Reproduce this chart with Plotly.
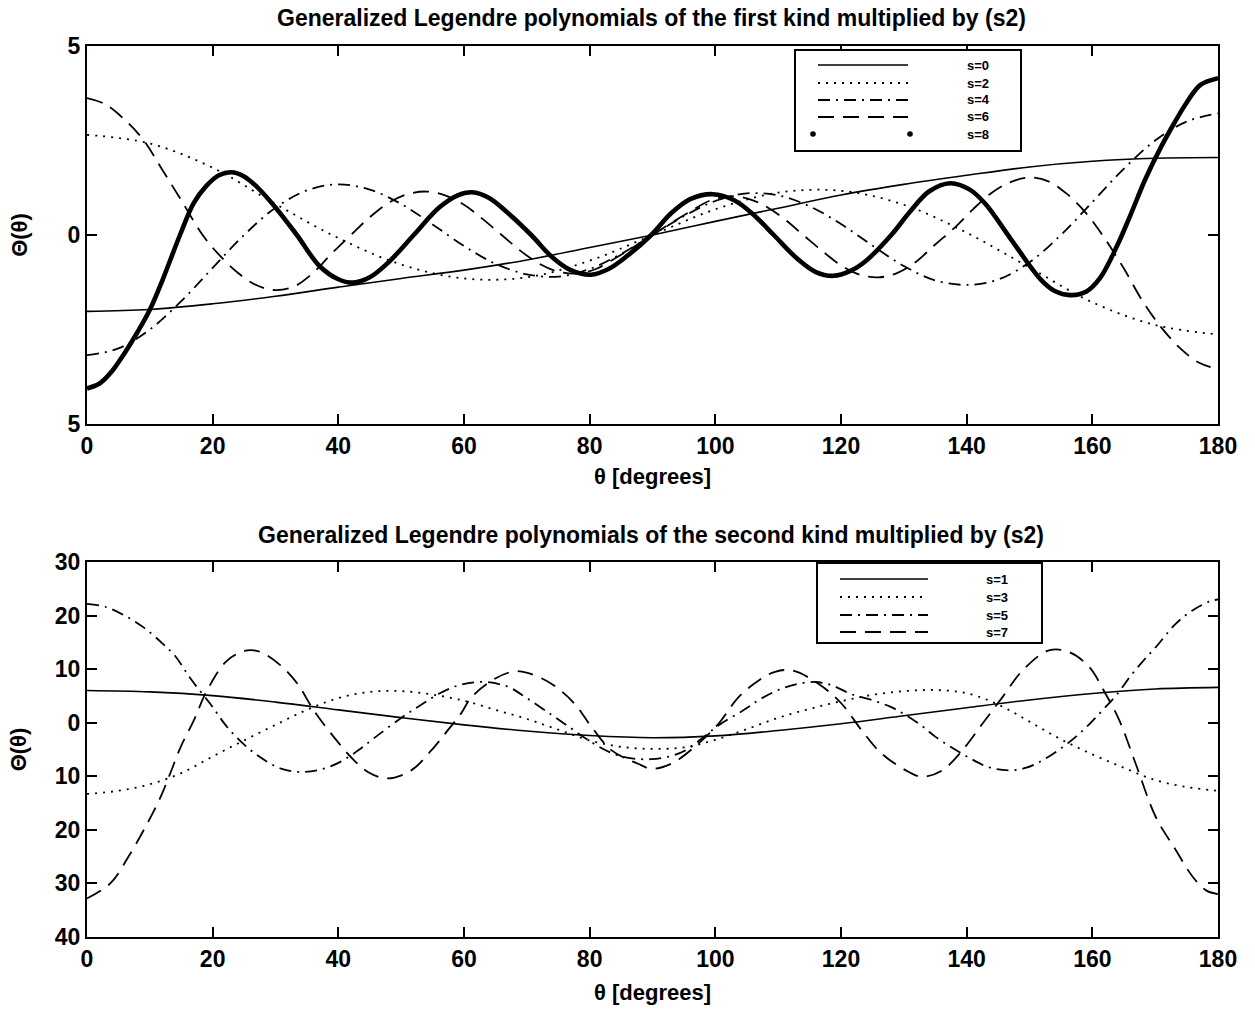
import plotly.graph_objects as go

# ---------------- data ----------------
# Top panel: first kind, s = 0, 2, 4, 6, 8
theta_s0 = [0, 10, 20, 30, 40, 50, 60, 70, 80, 90, 100, 110, 120, 130, 140, 150, 160, 170, 180]
s0 = [-2.02, -1.97, -1.82, -1.62, -1.38, -1.15, -0.93, -0.66, -0.33, 0.0, 0.36, 0.71, 1.06,
      1.34, 1.58, 1.80, 1.95, 2.03, 2.05]

theta_s2 = [0, 10, 20, 30, 40, 50, 60, 70, 80, 90, 100, 110, 120, 130, 140, 150, 160, 170, 180]
s2 = [2.65, 2.42, 1.78, 0.82, -0.08, -0.78, -1.15, -1.12, -0.68, 0.0, 0.68, 1.12, 1.17,
      0.80, 0.06, -0.86, -1.78, -2.38, -2.63]

theta_s4 = [0, 5, 10, 15, 20, 25, 30, 35, 40, 45, 50, 55, 60, 65, 70, 75, 80, 85, 90,
            95, 100, 105, 110, 115, 120, 125, 130, 135, 140, 145, 150, 155, 160, 165, 170, 175, 180]
s4 = [-3.18, -3.0, -2.5, -1.75, -0.87, 0.0, 0.72, 1.18, 1.34, 1.2, 0.82, 0.28, -0.29, -0.76,
      -1.04, -1.1, -0.9, -0.5, 0.0, 0.5, 0.9, 1.1, 1.05, 0.76, 0.29, -0.28, -0.82, -1.2,
      -1.32, -1.18, -0.72, 0.0, 0.87, 1.75, 2.5, 3.0, 3.22]

theta_s6 = [0, 3, 6, 9, 12, 15, 18.4, 21, 24, 27, 30, 33, 36, 39, 42, 45, 48, 51, 54, 57, 60,
            63, 66, 69, 72, 75, 78, 81, 84, 87, 90, 93, 96, 99, 102, 105, 108, 111, 114, 117,
            120, 123, 126, 129, 132, 135, 138, 141, 144, 147, 150, 153, 156, 159, 161.6, 165,
            168, 171, 174, 177, 180]
s6 = [3.62, 3.45, 3.05, 2.51, 1.72, 0.92, 0.0, -0.52, -1.0, -1.33, -1.46, -1.36, -1.0, -0.48,
      0.0, 0.47, 0.85, 1.08, 1.15, 1.05, 0.8, 0.42, 0.0, -0.42, -0.76, -0.97, -1.02, -0.9,
      -0.62, -0.32, 0.0, 0.32, 0.62, 0.9, 1.02, 0.97, 0.76, 0.42, 0.0, -0.42, -0.8, -1.05,
      -1.12, -1.0, -0.7, -0.25, 0.18, 0.68, 1.12, 1.4, 1.52, 1.42, 1.08, 0.58, 0.0, -0.88,
      -1.75, -2.45, -3.0, -3.38, -3.55]

theta_s8 = [0, 2, 4, 6, 8, 10, 12, 14.8, 17, 19, 21, 23, 25, 27, 30, 33.4, 37, 40, 42.4, 45,
            48, 52, 56, 59, 61.3, 64, 67, 70.7, 74, 77, 80.2, 83, 86, 89.8, 93, 96, 99.6, 103,
            106, 109.3, 113, 116, 118.8, 121.5, 124, 128, 131, 134, 137.4, 140.5, 143, 147,
            151.8, 154, 156.5, 159, 161.3, 163.9, 166, 168.5, 171, 173, 175, 177.2, 180]
s8 = [-4.06, -3.93, -3.6, -3.12, -2.58, -1.98, -1.2, 0.0, 0.85, 1.3, 1.58, 1.66, 1.55, 1.28,
      0.73, 0.0, -0.82, -1.17, -1.26, -1.12, -0.72, 0.0, 0.72, 1.05, 1.13, 0.98, 0.58, 0.0,
      -0.58, -0.93, -1.05, -0.9, -0.55, 0.0, 0.58, 0.95, 1.08, 0.92, 0.55, 0.0, -0.62, -0.98,
      -1.08, -0.95, -0.68, 0.0, 0.62, 1.15, 1.37, 1.2, 0.82, -0.1, -1.18, -1.48, -1.59, -1.5,
      -1.12, -0.3, 0.5, 1.5, 2.35, 2.95, 3.5, 3.97, 4.15]

# Bottom panel: second kind, s = 1, 3, 5, 7
theta_s1 = [0, 10, 20, 30, 40, 50, 60, 70, 80, 90, 100, 110, 120, 130, 140, 150, 160, 170, 180]
s1 = [6.0, 5.75, 5.05, 3.85, 2.4, 0.95, -0.4, -1.55, -2.4, -2.8, -2.45, -1.45, -0.2, 1.3,
      2.8, 4.25, 5.45, 6.3, 6.6]

theta_s3 = [0, 5, 10, 15, 20, 25, 30, 35, 40, 45, 50, 55, 60, 65, 70, 75, 80, 85, 90, 95,
            100, 105, 110, 115, 120, 125, 130, 135, 140, 145, 150, 155, 160, 165, 170, 175, 180]
s3 = [-13.3, -12.7, -11.5, -9.4, -6.3, -3.3, -0.4, 2.4, 4.6, 5.75, 5.9, 5.25, 4.1, 2.4, 0.7,
      -1.3, -3.3, -4.5, -4.9, -4.6, -3.2, -1.2, 0.9, 2.6, 4.0, 5.2, 5.9, 6.1, 5.5, 3.4, 0.2,
      -3.1, -5.9, -8.4, -10.7, -12.0, -12.7]

theta_s5 = [0, 3, 6, 9, 12, 14, 16.5, 19.7, 22.3, 25.5, 28.7, 31, 34, 37, 40, 43, 46, 50, 53,
            56, 59.5, 63.3, 67, 70, 73.9, 77, 79.2, 82, 84.5, 87, 89.8, 93, 95.5, 98, 100.5,
            104.7, 107, 110, 113, 115.9, 118.5, 121.7, 125, 128, 130.2, 133, 135, 139.3, 143.5,
            146.7, 149.5, 152.1, 155, 157.4, 159.5, 161.6, 164, 166, 168, 170.1, 173.3, 176,
            178.6, 180]
s5 = [22.2, 21.6, 20.0, 17.8, 14.8, 12.5, 8.2, 3.4, -0.8, -4.6, -7.3, -8.6, -9.2, -8.8, -7.5,
      -5.3, -2.6, 0.9, 3.2, 5.4, 7.1, 7.6, 6.7, 4.6, 1.5, -1.0, -2.8, -4.8, -6.1, -6.7, -6.8,
      -6.2, -5.0, -2.8, -0.5, 2.5, 4.3, 6.1, 7.2, 7.6, 7.0, 5.3, 4.2, 2.9, 1.5, -0.7, -2.6,
      -5.8, -8.3, -8.9, -8.4, -7.0, -4.8, -2.6, -0.3, 2.3, 5.4, 8.6, 11.4, 14.1, 18.5, 21.0,
      22.6, 23.0]

theta_s7 = [0, 3.7, 6.9, 9.6, 11.7, 13.3, 14.9, 17.0, 19.1, 22.3, 25.5, 27.6, 30.8, 33.5, 36.1,
            39.3, 42.0, 44.7, 47.8, 51.6, 54.8, 57.4, 59.5, 61.2, 64.9, 68, 70.1, 73.9, 77.6,
            80.3, 83.5, 87.7, 89.8, 93.0, 97.3, 100.5, 103.7, 106.9, 109.5, 112.2, 116.4, 120.1,
            123.3, 126.5, 130.8, 132.9, 136.1, 139.3, 142.5, 145.7, 148.9, 153.1, 156.3, 159.5,
            162.1, 164.3, 166.9, 170.1, 173.3, 176.0, 178.1, 180]
s7 = [-32.8, -30.0, -24.4, -18.8, -13.9, -9.3, -4.55, 0.43, 6.03, 11.6, 13.5, 13.2, 10.7, 7.28,
      2.3, -2.7, -6.4, -9.2, -10.4, -8.9, -5.17, -1.44, 1.68, 4.78, 8.2, 9.6, 9.3, 7.28, 3.54,
      -0.8, -5.17, -7.65, -8.6, -7.65, -3.9, -0.2, 4.78, 7.9, 9.5, 9.76, 7.28, 3.54, -1.44,
      -5.8, -9.2, -10.1, -8.9, -5.17, -0.2, 4.78, 9.76, 13.5, 13.2, 10.4, 5.4, 0.43, -7.65,
      -17.6, -23.8, -28.8, -31.3, -32.0]

x_ticks = [0, 20, 40, 60, 80, 100, 120, 140, 160, 180]
top_yticks = [-5, 0, 5]
top_yticklabels = ["5", "0", "5"]
bot_yticks = [-40, -30, -20, -10, 0, 10, 20, 30]
bot_yticklabels = ["40", "30", "20", "10", "0", "10", "20", "30"]

top_labels = ["s=0", "s=2", "s=4", "s=6", "s=8"]
bot_labels = ["s=1", "s=3", "s=5", "s=7"]
title_top = "Generalized Legendre polynomials of the first kind multiplied by (s2)"
title_bot = "Generalized Legendre polynomials of the second kind multiplied by (s2)"
x_title = "θ [degrees]"
y_title = "Θ(θ)"

# ---------------- styling / layout helpers ----------------
W, H = 1255, 1011
ML, MR, MT, MB = 87, 37, 46, 74


def fx(px):
    return (px - ML) / (W - ML - MR)


def fy(py):
    return (H - MB - py) / (H - MT - MB)


FONT = "Liberation Sans, Arial, Helvetica, sans-serif"
SOLID = "solid"
DOT = "2px,6px"
DASHDOT = "12px,6px,2px,6px"
DASH = "16px,9px"

fig = go.Figure()

top_series = [
    (theta_s0, s0, SOLID, 1.6),
    (theta_s2, s2, DOT, 1.8),
    (theta_s4, s4, DASHDOT, 1.8),
    (theta_s6, s6, DASH, 1.8),
    (theta_s8, s8, SOLID, 4.6),
]
for (xs, ys, dash, w), name in zip(top_series, top_labels):
    fig.add_trace(go.Scatter(x=xs, y=ys, mode="lines", name=name, showlegend=False,
                             line=dict(color="black", width=w, dash=dash,
                                       shape="spline", smoothing=1.0),
                             xaxis="x", yaxis="y"))

bot_series = [
    (theta_s1, s1, SOLID, 1.6),
    (theta_s3, s3, DOT, 1.8),
    (theta_s5, s5, DASHDOT, 1.8),
    (theta_s7, s7, DASH, 1.8),
]
for (xs, ys, dash, w), name in zip(bot_series, bot_labels):
    fig.add_trace(go.Scatter(x=xs, y=ys, mode="lines", name=name, showlegend=False,
                             line=dict(color="black", width=w, dash=dash,
                                       shape="spline", smoothing=1.0),
                             xaxis="x2", yaxis="y2"))

tickfont = dict(family=FONT, size=23, color="black", weight="bold")
axis_common = dict(showline=True, linewidth=2, linecolor="black", mirror="ticks",
                   ticks="inside", ticklen=10, tickwidth=2, tickcolor="black",
                   showgrid=False, zeroline=False, tickfont=tickfont, automargin=False)
axtitlefont = dict(family=FONT, size=22, color="black", weight="bold")

fig.update_layout(
    width=W, height=H,
    margin=dict(l=ML, r=MR, t=MT, b=MB, autoexpand=False),
    paper_bgcolor="white", plot_bgcolor="white",
    showlegend=False,
    xaxis=dict(domain=[0, 1], range=[0, 180], anchor="y", tickvals=x_ticks,
               title=dict(text=x_title, font=axtitlefont, standoff=11),
               **axis_common),
    yaxis=dict(domain=[fy(424), 1.0], range=[-5, 5], anchor="x", tickvals=top_yticks,
               ticktext=top_yticklabels,
               title=dict(text=y_title, font=axtitlefont, standoff=34),
               **axis_common),
    xaxis2=dict(domain=[0, 1], range=[0, 180], anchor="y2", tickvals=x_ticks,
                title=dict(text=x_title, font=axtitlefont, standoff=14),
                **axis_common),
    yaxis2=dict(domain=[0, fy(562)], range=[-40, 30], anchor="x2", tickvals=bot_yticks,
                ticktext=bot_yticklabels,
                title=dict(text=y_title, font=axtitlefont, standoff=22),
                **axis_common),
)

titlefont = dict(family=FONT, size=23, color="black", weight="bold")
fig.add_annotation(text=title_top, x=fx(651), y=fy(18), xref="paper", yref="paper",
                   showarrow=False, font=titlefont, xanchor="center", yanchor="middle")
fig.add_annotation(text=title_bot, x=fx(651), y=fy(535), xref="paper", yref="paper",
                   showarrow=False, font=titlefont, xanchor="center", yanchor="middle")

# ---------------- hand-drawn legend boxes (MATLAB style) ----------------
legfont = dict(family=FONT, size=13, color="black", weight="bold")


def legend_box(x0, x1, y0, y1):
    fig.add_shape(type="rect", xref="paper", yref="paper", x0=fx(x0), x1=fx(x1),
                  y0=fy(y1), y1=fy(y0), line=dict(color="black", width=2),
                  fillcolor="white", layer="above")


def legend_line(x0, x1, y, dash, w):
    fig.add_shape(type="line", xref="paper", yref="paper", x0=fx(x0), x1=fx(x1),
                  y0=fy(y), y1=fy(y), line=dict(color="black", width=w, dash=dash),
                  layer="above")


def legend_dot(x, y, r=2.8):
    fig.add_shape(type="circle", xref="paper", yref="paper", x0=fx(x - r), x1=fx(x + r),
                  y0=fy(y + r), y1=fy(y - r), line=dict(color="black", width=0),
                  fillcolor="black", layer="above")


def legend_text(x, y, text):
    fig.add_annotation(text=text, x=fx(x), y=fy(y), xref="paper", yref="paper",
                       showarrow=False, font=legfont, xanchor="center", yanchor="middle")


legend_box(795, 1021, 50, 151)
top_rows = [65, 83, 100, 117, 134]
top_styles = [(SOLID, 1.6), (DOT, 1.8), (DASHDOT, 1.8), (DASH, 1.8)]
for (dash, w), yrow, lab in zip(top_styles, top_rows[:4], top_labels[:4]):
    legend_line(818, 908, yrow, dash, w)
    legend_text(978, yrow, lab)
legend_dot(813, top_rows[4])
legend_dot(910, top_rows[4])
legend_text(978, top_rows[4], top_labels[4])

legend_box(817, 1042, 563, 643)
bot_rows = [579, 597, 615, 632]
for (dash, w), yrow, lab in zip(top_styles, bot_rows, bot_labels):
    legend_line(840, 928, yrow, dash, w)
    legend_text(997, yrow, lab)

fig.write_html("out.html")
